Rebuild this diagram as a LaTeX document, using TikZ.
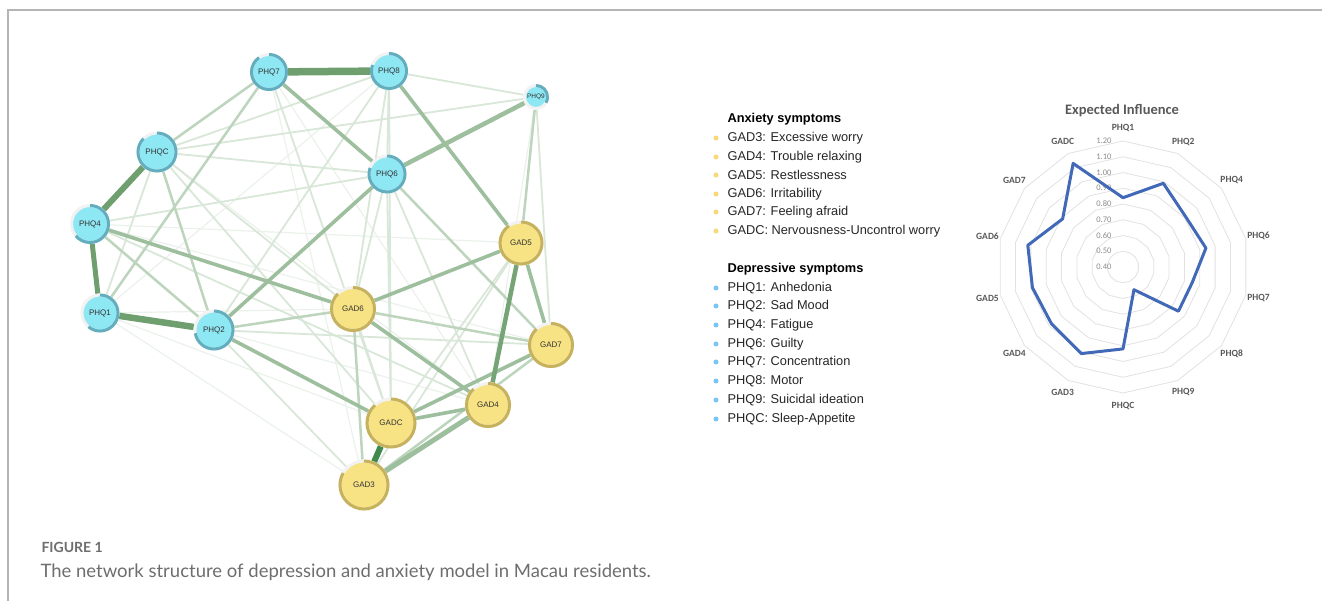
\documentclass[tikz,border=0pt]{standalone}
\usepackage{fontspec}
\setmainfont{Liberation Sans}
\newfontfamily\chartfont{Carlito}
\newfontfamily\capfont{Lato}
\usetikzlibrary{backgrounds}
\definecolor{figcyan}{HTML}{8EE8F4}
\definecolor{figcyanring}{HTML}{62AEBE}
\definecolor{figyellow}{HTML}{F8E384}
\definecolor{figyellowring}{HTML}{C6B25C}
\definecolor{figedgedark}{HTML}{3F8A4C}
\definecolor{figedgestrong}{HTML}{6F9F6F}
\definecolor{figedgemid}{HTML}{9DBF9D}
\definecolor{figedgelight}{HTML}{BDD4BD}
\definecolor{figedgefaint}{HTML}{D9E7D9}
\definecolor{figedgeghost}{HTML}{EBF2EB}
\definecolor{figframe}{HTML}{B4B4B4}
\definecolor{figblue}{HTML}{4169B8}
\definecolor{figgridgray}{HTML}{E2E2E2}
\definecolor{figtextgray}{HTML}{595959}
\definecolor{figcapgray}{HTML}{6E6E6E}

\begin{document}
\begin{tikzpicture}[x=1pt,y=-1pt,
  symnode/.style={circle,inner sep=0pt,line width=3pt,draw=black!5,text=black!80,
    font=\fontsize{8}{8}\selectfont},
  phq/.style={symnode,fill=figcyan},
  gad/.style={symnode,fill=figyellow},
  phqarc/.style={figcyanring,line width=3pt},
  gadarc/.style={figyellowring,line width=3pt},
  edgeghost/.style={figedgeghost,line width=1.2pt},
  edgefaint/.style={figedgefaint,line width=1.8pt},
  edgelight/.style={figedgelight,line width=2.5pt},
  edgemid/.style={figedgemid,line width=3.6pt},
  edgestrong/.style={figedgestrong,line width=5pt},
  legtitle/.style={anchor=west,font=\fontsize{12.8}{14}\selectfont\bfseries},
  legitem/.style={anchor=west,font=\fontsize{12.8}{14}\selectfont,text=black!85},
  eilabel/.style={font=\chartfont\fontsize{9.5}{10}\selectfont\bfseries,text=figtextgray},
  eitick/.style={anchor=east,font=\chartfont\fontsize{8.5}{9}\selectfont,text=black!45},
  eigrid/.style={figgridgray,line width=0.8pt},
  eiline/.style={figblue,line width=3pt,line join=round}]
\useasboundingbox (0,0) rectangle (1322,601);
\draw[figframe,line width=1.5pt] (1322,10) -- (8,10) -- (8,601);

% network
\node[phq,minimum size=35pt] (PHQ7) at (269,72) {PHQ7};
\node[phq,minimum size=35pt] (PHQ8) at (389,71) {PHQ8};
\node[phq,minimum size=23pt,font=\fontsize{6.5}{7}\selectfont] (PHQ9) at (536,97) {PHQ9};
\node[phq,minimum size=38pt] (PHQC) at (157,152) {PHQC};
\node[phq,minimum size=36pt] (PHQ6) at (387,174) {PHQ6};
\node[phq,minimum size=37pt] (PHQ4) at (90,224) {PHQ4};
\node[phq,minimum size=36pt] (PHQ1) at (100,313) {PHQ1};
\node[phq,minimum size=38pt] (PHQ2) at (214,330) {PHQ2};
\node[gad,minimum size=42pt] (GAD5) at (521,243) {GAD5};
\node[gad,minimum size=43pt] (GAD6) at (353,309) {GAD6};
\node[gad,minimum size=43pt] (GAD7) at (551,345) {GAD7};
\node[gad,minimum size=43pt] (GAD4) at (488,405) {GAD4};
\node[gad,minimum size=48pt] (GADC) at (391,423) {GADC};
\node[gad,minimum size=48pt] (GAD3) at (364,485) {GAD3};

\draw[phqarc] ([shift={(-90:17.5)}]PHQ7.center) arc[start angle=-90,delta angle=325,radius=17.5];
\draw[phqarc] ([shift={(-90:17.5)}]PHQ8.center) arc[start angle=-90,delta angle=290,radius=17.5];
\draw[phqarc] ([shift={(-90:11.5)}]PHQ9.center) arc[start angle=-90,delta angle=120,radius=11.5];
\draw[phqarc] ([shift={(-90:19)}]PHQC.center) arc[start angle=-90,delta angle=315,radius=19];
\draw[phqarc] ([shift={(-90:18)}]PHQ6.center) arc[start angle=-90,delta angle=290,radius=18];
\draw[phqarc] ([shift={(-90:18.5)}]PHQ4.center) arc[start angle=-90,delta angle=230,radius=18.5];
\draw[phqarc] ([shift={(-90:18)}]PHQ1.center) arc[start angle=-90,delta angle=220,radius=18];
\draw[phqarc] ([shift={(-90:19)}]PHQ2.center) arc[start angle=-90,delta angle=260,radius=19];
\draw[gadarc] ([shift={(-90:21)}]GAD5.center) arc[start angle=-90,delta angle=325,radius=21];
\draw[gadarc] ([shift={(-90:21.5)}]GAD6.center) arc[start angle=-90,delta angle=315,radius=21.5];
\draw[gadarc] ([shift={(-90:21.5)}]GAD7.center) arc[start angle=-90,delta angle=318,radius=21.5];
\draw[gadarc] ([shift={(-90:21.5)}]GAD4.center) arc[start angle=-90,delta angle=318,radius=21.5];
\draw[gadarc] ([shift={(-90:24)}]GADC.center) arc[start angle=-90,delta angle=318,radius=24];
\draw[gadarc] ([shift={(-90:24)}]GAD3.center) arc[start angle=-90,delta angle=300,radius=24];

\begin{pgfonlayer}{background}
\fill[white] (0,0) rectangle (1322,601);
\draw[edgeghost] (PHQ1) -- (GAD3);
\draw[edgeghost] (PHQ1) -- (GADC);
\draw[edgeghost] (PHQ1) -- (GAD6);
\draw[edgeghost] (PHQ1) -- (PHQ8);
\draw[edgeghost] (PHQ4) -- (GAD5);
\draw[edgeghost] (PHQ4) -- (GAD7);
\draw[edgeghost] (PHQ7) -- (GAD4);
\draw[edgeghost] (PHQ9) -- (GAD4);
\draw[edgeghost] (PHQ2) -- (GAD4);
\draw[edgeghost] (PHQC) -- (GAD4);
\draw[edgeghost] (PHQ7) -- (GAD3);
\draw[edgefaint] (PHQ8) -- (PHQ9);
\draw[edgefaint] (PHQC) -- (PHQ6);
\draw[edgefaint] (PHQC) -- (PHQ9);
\draw[edgefaint] (PHQC) -- (PHQ8);
\draw[edgefaint] (PHQ8) -- (PHQ6);
\draw[edgefaint] (PHQ8) -- (PHQ2);
\draw[edgefaint] (PHQ8) -- (GAD6);
\draw[edgefaint] (PHQ8) -- (GADC);
\draw[edgefaint] (PHQ7) -- (GADC);
\draw[edgefaint] (PHQC) -- (GAD6);
\draw[edgefaint] (PHQC) -- (GADC);
\draw[edgefaint] (PHQC) -- (PHQ1);
\draw[edgefaint] (PHQ9) -- (GAD7);
\draw[edgefaint] (PHQ6) -- (GAD6);
\draw[edgefaint] (PHQ6) -- (GADC);
\draw[edgefaint] (PHQ6) -- (GAD4);
\draw[edgefaint] (GAD5) -- (GADC);
\draw[edgefaint] (GAD5) -- (GAD3);
\draw[edgefaint] (PHQ4) -- (GAD4);
\draw[edgefaint] (PHQ4) -- (PHQ6);
\draw[edgefaint] (PHQ2) -- (GAD7);
\draw[edgefaint] (PHQ2) -- (GAD3);
\draw[edgefaint] (GAD6) -- (GADC);
\draw[edgelight] (PHQC) -- (PHQ7);
\draw[edgelight] (PHQ7) -- (PHQ1);
\draw[edgelight] (PHQC) -- (PHQ2);
\draw[edgelight] (PHQ4) -- (PHQ2);
\draw[edgelight] (PHQ9) -- (GAD5);
\draw[edgelight] (PHQ6) -- (GAD7);
\draw[edgelight] (PHQ2) -- (GAD6);
\draw[edgelight] (GAD6) -- (GAD3);
\draw[edgelight] (GAD6) -- (GAD7);
\draw[edgelight] (GAD3) -- (GAD7);
\draw[edgemid] (PHQ7) -- (PHQ6);
\draw[edgemid] (PHQ8) -- (GAD5);
\draw[edgemid] (PHQ6) -- (PHQ2);
\draw[edgemid] (PHQ4) -- (GAD6);
\draw[edgemid] (PHQ2) -- (GADC);
\draw[edgemid] (GAD6) -- (GAD5);
\draw[edgemid] (GAD6) -- (GAD4);
\draw[edgemid] (GAD5) -- (GAD7);
\draw[edgemid] (GADC) -- (GAD7);
\draw[edgemid] (GADC) -- (GAD4);
\draw[edgemid,line width=4.5pt] (PHQ6) -- (PHQ9);
\draw[edgemid,line width=5pt] (GAD3) -- (GAD4);
\draw[edgestrong,line width=4.5pt,figedgestrong!85!figedgemid] (GAD5) -- (GAD4);
\draw[edgestrong] (PHQ4) -- (PHQ1);
\draw[edgestrong,line width=6pt] (PHQC) -- (PHQ4);
\draw[edgestrong,line width=6.5pt] (PHQ1) -- (PHQ2);
\draw[edgestrong,line width=7.5pt] (PHQ7) -- (PHQ8);
\draw[edgestrong,line width=6pt,figedgedark] (GADC) -- (GAD3);
\end{pgfonlayer}

% legend
\node[legtitle] (anxtitle) at (724,119) {Anxiety symptoms};
\node[legitem] (gad3item) at (724,138) {GAD3: Excessive worry};
\node[legitem] (gad4item) at (724,157) {GAD4: Trouble relaxing};
\node[legitem] (gad5item) at (724,175) {GAD5: Restlessness};
\node[legitem] (gad6item) at (724,194) {GAD6: Irritability};
\node[legitem] (gad7item) at (724,212) {GAD7: Feeling afraid};
\node[legitem] (gadcitem) at (724,231) {GADC: Nervousness-Uncontrol worry};
\node[legtitle] (deptitle) at (724,269) {Depressive symptoms};
\node[legitem] (phq1item) at (724,288) {PHQ1: Anhedonia};
\node[legitem] (phq2item) at (724,306) {PHQ2: Sad Mood};
\node[legitem] (phq4item) at (724,325) {PHQ4: Fatigue};
\node[legitem] (phq6item) at (724,344) {PHQ6: Guilty};
\node[legitem] (phq7item) at (724,362) {PHQ7: Concentration};
\node[legitem] (phq8item) at (724,381) {PHQ8: Motor};
\node[legitem] (phq9item) at (724,400) {PHQ9: Suicidal ideation};
\node[legitem] (phqcitem) at (724,419) {PHQC: Sleep-Appetite};
\foreach \y in {138,157,175,194,212,231}
  \fill[figyellow!90!orange] (716,\y) circle[radius=2.5];
\foreach \y in {288,306,325,344,362,381,400,419}
  \fill[figcyan!85!blue] (716,\y) circle[radius=2.5];

% expected influence chart
\node[font=\chartfont\fontsize{14.5}{16}\selectfont\bfseries,text=figtextgray] (eititle) at (1122,111) {Expected Influence};
\begin{scope}[shift={(1123,267)}]
\foreach \k in {1,...,8}
  \draw[eigrid] (-90:\k*15.75) \foreach \i in {1,...,13} {-- ({-90+\i*360/14}:\k*15.75)} -- cycle;
\foreach \t [count=\k from 0] in {0.40,0.50,0.60,0.70,0.80,0.90,1.00,1.10,1.20}
  \node[eitick] (tick\k) at (-8,{-\k*15.75}) {\t};
\foreach \lab [count=\i from 0] in {PHQ1,PHQ2,PHQ4,PHQ6,PHQ7,PHQ8,PHQ9,PHQC,GAD3,GAD4,GAD5,GAD6,GAD7,GADC}
  \node[eilabel] (axis\i) at ({-90+\i*360/14}:139) {\lab};
\draw[eiline] (-90:69.3) \foreach \a/\r in {-64.29/92.9,-38.57/80.3,-12.86/85.05,12.86/70.9,38.57/70.9,64.29/25.2,90/81.9,115.71/96.1,141.43/91.35,167.14/92.9,192.86/97.65,218.57/77.2,244.29/115}
  {-- (\a:\r)} -- cycle;
\end{scope}

% caption
\node[anchor=west,font=\capfont\fontsize{14}{16}\selectfont\bfseries,text=figcapgray] (figlabel) at (38,547) {FIGURE 1};
\node[anchor=west,font=\capfont\fontsize{18.5}{20}\selectfont,text=figcapgray] (figcaption) at (37,572) {The network structure of depression and anxiety model in Macau residents.};
\end{tikzpicture}
\end{document}
